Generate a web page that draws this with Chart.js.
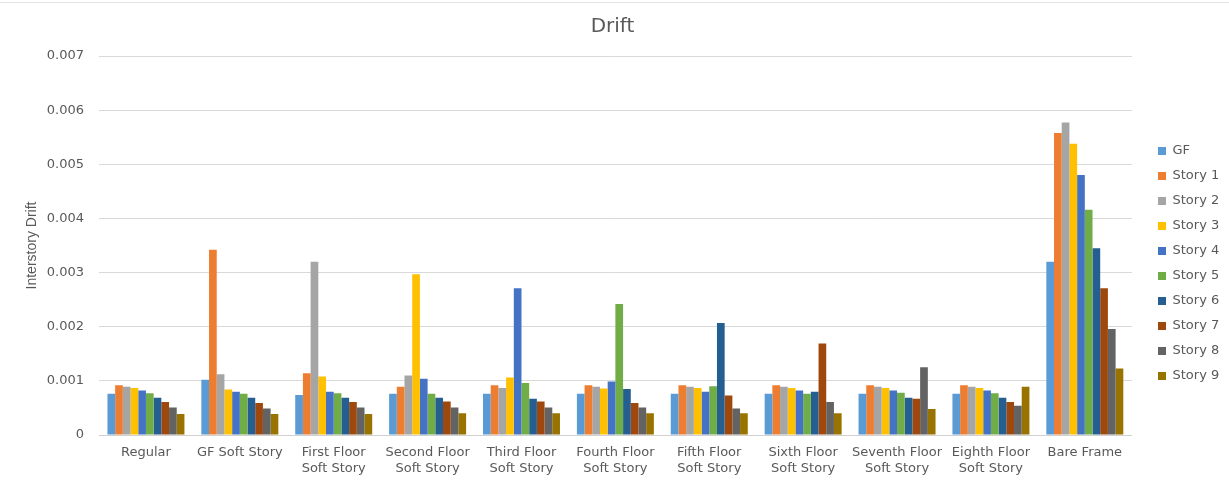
<!DOCTYPE html>
<html>
<head>
<meta charset="utf-8">
<title>Drift</title>
<script src="https://cdn.jsdelivr.net/npm/chart.js@4/dist/chart.umd.min.js"></script>
<style>
  html, body { margin: 0; padding: 0; background: #ffffff; }
  #wrap { position: relative; width: 1229px; height: 483px; }
  #topline { position: absolute; left: 0; top: 2px; width: 1229px; height: 0; border-top: 1px solid #e4e4e4; }
  canvas { display: block; }
</style>
</head>
<body>
<div id="wrap">
  <div id="topline"></div>
  <canvas id="chart" width="1229" height="483"></canvas>
</div>
<script>
// Building cases on the category axis
const categories = [
  'Regular',
  'GF Soft Story',
  ['First Floor', 'Soft Story'],
  ['Second Floor', 'Soft Story'],
  ['Third Floor', 'Soft Story'],
  ['Fourth Floor', 'Soft Story'],
  ['Fifth Floor', 'Soft Story'],
  ['Sixth Floor', 'Soft Story'],
  ['Seventh Floor', 'Soft Story'],
  ['Eighth Floor', 'Soft Story'],
  'Bare Frame'
];

const seriesNames = ['GF', 'Story 1', 'Story 2', 'Story 3', 'Story 4', 'Story 5', 'Story 6', 'Story 7', 'Story 8', 'Story 9'];

// Interstory drift per storey, one value per building case
const gf     = [0.00076, 0.00102, 0.00074, 0.00076, 0.00076, 0.00076, 0.00076, 0.00076, 0.00076, 0.00076, 0.00320];
const story1 = [0.00092, 0.00342, 0.00114, 0.00089, 0.00092, 0.00092, 0.00092, 0.00092, 0.00092, 0.00092, 0.00558];
const story2 = [0.00089, 0.00112, 0.00320, 0.00110, 0.00087, 0.00089, 0.00089, 0.00089, 0.00089, 0.00089, 0.00577];
const story3 = [0.00087, 0.00084, 0.00108, 0.00297, 0.00106, 0.00086, 0.00087, 0.00087, 0.00087, 0.00087, 0.00538];
const story4 = [0.00082, 0.00080, 0.00080, 0.00104, 0.00271, 0.00099, 0.00080, 0.00082, 0.00082, 0.00082, 0.00480];
const story5 = [0.00077, 0.00076, 0.00077, 0.00076, 0.00096, 0.00242, 0.00090, 0.00076, 0.00078, 0.00077, 0.00416];
const story6 = [0.00069, 0.00069, 0.00069, 0.00069, 0.00067, 0.00085, 0.00207, 0.00080, 0.00069, 0.00069, 0.00345];
const story7 = [0.00061, 0.00059, 0.00061, 0.00062, 0.00062, 0.00059, 0.00073, 0.00169, 0.00067, 0.00061, 0.00271];
const story8 = [0.00051, 0.00049, 0.00051, 0.00051, 0.00051, 0.00051, 0.00049, 0.00061, 0.00125, 0.00054, 0.00196];
const story9 = [0.00039, 0.00039, 0.00039, 0.00040, 0.00040, 0.00040, 0.00040, 0.00040, 0.00048, 0.00089, 0.00123];

const seriesValues = [gf, story1, story2, story3, story4, story5, story6, story7, story8, story9];

const seriesColors = ['#5B9BD5', '#ED7D31', '#A5A5A5', '#FFC000', '#4472C4', '#70AD47', '#255E91', '#9E480E', '#636363', '#997300'];

const yTickLabels = ['0', '0.001', '0.002', '0.003', '0.004', '0.005', '0.006', '0.007'];

const textColor = '#595959';
const baseFont = 'DejaVu Sans';

// Moves the legend column away from the plot area and a little lower
const legendShift = {
  id: 'legendShift',
  afterLayout(chart) {
    const lg = chart.legend;
    if (!lg) return;
    const dx = 1146 - lg.left;
    lg.left += dx;
    lg.right += dx;
    lg.top += 22;
    lg.bottom += 22;
  }
};

new Chart(document.getElementById('chart'), {
  type: 'bar',
  data: {
    labels: categories,
    datasets: seriesNames.map((name, i) => ({
      label: name,
      data: seriesValues[i],
      backgroundColor: seriesColors[i],
      borderWidth: 0,
      categoryPercentage: 0.82,
      barPercentage: 1.0
    }))
  },
  options: {
    responsive: false,
    devicePixelRatio: 1,
    animation: false,
    layout: { padding: { left: 10, right: 14, top: 0, bottom: 0 } },
    plugins: {
      title: {
        display: true,
        text: 'Drift',
        color: textColor,
        font: { family: baseFont, size: 20, weight: 'normal' },
        padding: { top: 15, bottom: 17 }
      },
      legend: {
        position: 'right',
        align: 'center',
        labels: {
          color: textColor,
          font: { family: baseFont, size: 13 },
          boxWidth: 8,
          boxHeight: 8,
          padding: 12
        }
      },
      tooltip: { enabled: false }
    },
    scales: {
      x: {
        afterFit(scale) { scale.height = 48; },
        grid: { display: false, drawTicks: false },
        border: { display: true, color: '#D0D0D0', width: 1 },
        ticks: {
          color: textColor,
          font: { family: baseFont, size: 13 },
          padding: 10,
          maxRotation: 0,
          autoSkip: false
        }
      },
      y: {
        afterFit(scale) { scale.width = 89; },
        min: 0,
        max: 0.007,
        grid: { color: '#D9D9D9', lineWidth: 1, drawTicks: false },
        border: { display: false },
        ticks: {
          stepSize: 0.001,
          color: textColor,
          font: { family: baseFont, size: 13 },
          padding: 15,
          callback: (v, idx) => yTickLabels[idx]
        },
        title: {
          display: true,
          text: 'Interstory Drift',
          color: textColor,
          font: { family: 'Liberation Sans', size: 14 },
          padding: { top: 14, bottom: 6 }
        }
      }
    }
  },
  plugins: [legendShift]
});
</script>
</body>
</html>
